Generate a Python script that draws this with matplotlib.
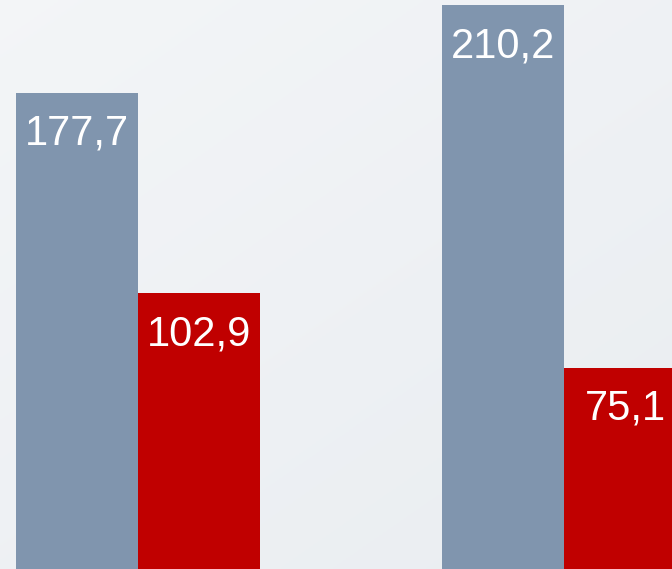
import matplotlib.pyplot as plt
import numpy as np

groups = [0, 1]
blue_vals = [177.7, 210.2]
red_vals = [102.9, 75.1]
blue_labels = ["177,7", "210,2"]
red_labels = ["102,9", "75,1"]

blue_col = "#8095ae"
red_col = "#c00000"
w = 0.2864

fig = plt.figure(figsize=(6.72, 5.69), dpi=100)
ax = fig.add_axes([0, 0, 1, 1])
ax.set_xlim(-0.324, 1.2535)
ax.set_ylim(0, 212.2)
ax.axis('off')

# soft light background
yy, xx = np.mgrid[0:1:200j, 0:1:200j]
c0 = np.array([0.955, 0.962, 0.970])
c1 = np.array([0.915, 0.930, 0.945])
t = np.clip(0.55 * yy + 0.45 * xx, 0, 1)[..., None]
bg = c0 * (1 - t) + c1 * t
ax.imshow(bg, extent=[-0.324, 1.2535, 0, 212.2], aspect='auto', zorder=0, origin='upper')

x = np.array(groups)
b1 = ax.bar(x - w / 2, blue_vals, w, color=blue_col, linewidth=0, zorder=2)
b2 = ax.bar(x + w / 2, red_vals, w, color=red_col, linewidth=0, zorder=2)

for bars, labs in [(b1, blue_labels), (b2, red_labels)]:
    for r, lab in zip(bars, labs):
        ax.annotate(lab, (r.get_x() + r.get_width() / 2, r.get_height()),
                    xytext=(0, -37.5), textcoords='offset points',
                    ha='center', va='baseline', color='white',
                    fontsize=30, family='Liberation Sans', zorder=3)

plt.savefig('out.png', dpi=100)
